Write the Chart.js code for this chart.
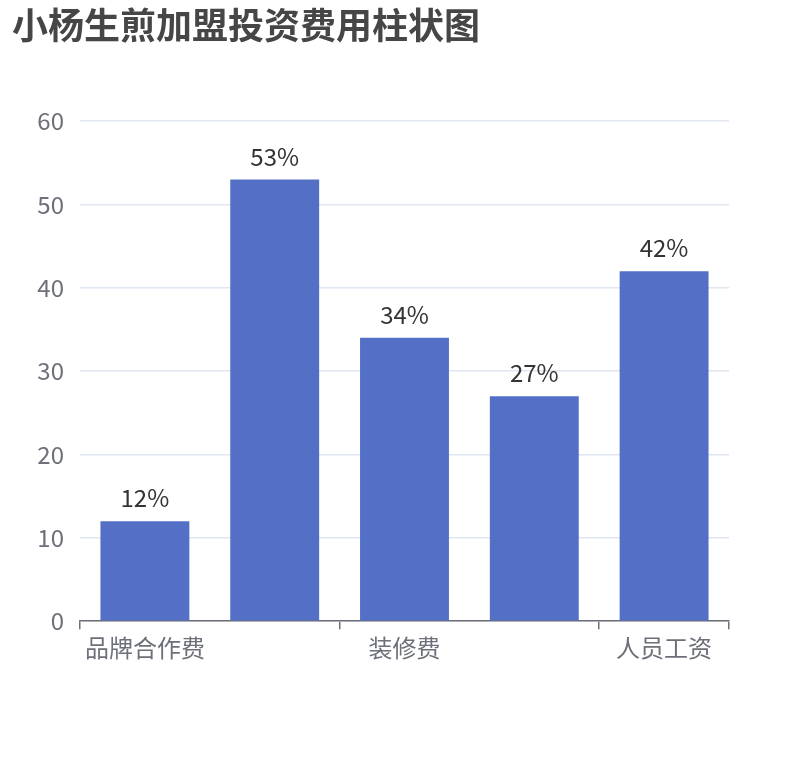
<!DOCTYPE html>
<html>
<head>
<meta charset="utf-8">
<script src="https://cdn.jsdelivr.net/npm/chart.js@4"></script>
<style>
html,body{margin:0;padding:0;background:#fff;}
#wrap{width:810px;height:760px;}
</style>
</head>
<body>
<div id="wrap"><canvas id="c" width="810" height="760"></canvas></div>
<script>
const titleText = '小杨生煎加盟投资费用柱状图';
const categories = ['品牌合作费', '加盟费', '装修费', '设备费', '人员工资'];
const values = [12, 53, 34, 27, 42];
const yTicks = [0, 10, 20, 30, 40, 50, 60];

const FONT = '"Noto Sans CJK SC", "Noto Sans", sans-serif';

const valueLabels = {
  id: 'valueLabels',
  afterDatasetsDraw(chart) {
    const ctx = chart.ctx;
    const meta = chart.getDatasetMeta(0);
    ctx.save();
    ctx.font = '24px ' + FONT;
    ctx.fillStyle = '#333333';
    ctx.textAlign = 'center';
    ctx.textBaseline = 'bottom';
    meta.data.forEach((bar, i) => {
      ctx.fillText(values[i] + '%', bar.x, bar.y - 11);
    });
    ctx.restore();
  }
};

new Chart(document.getElementById('c'), {
  type: 'bar',
  data: {
    labels: categories,
    datasets: [{
      data: values,
      backgroundColor: '#5470C6',
      barPercentage: 0.685,
      categoryPercentage: 1.0
    }]
  },
  options: {
    responsive: false,
    animation: false,
    devicePixelRatio: 1,
    layout: { padding: { left: 12, right: 81, top: 4, bottom: 94 } },
    plugins: {
      legend: { display: false },
      tooltip: { enabled: false },
      title: {
        display: true,
        text: titleText,
        align: 'start',
        color: '#464646',
        font: { family: FONT, size: 36, weight: 'bold' },
        padding: { top: 0, bottom: 74 }
      }
    },
    scales: {
      x: {
        type: 'category',
        offset: true,
        border: { display: true, color: '#6E7079', width: 1.5 },
        grid: {
          display: true,
          offset: true,
          drawOnChartArea: false,
          drawTicks: true,
          tickLength: 8,
          lineWidth: 1.5,
          color: (c) => (c.index === undefined || c.index % 2 === 0) ? '#6E7079' : 'rgba(0,0,0,0)'
        },
        ticks: {
          autoSkip: false,
          maxRotation: 0,
          color: '#6E7079',
          padding: 4,
          font: { family: FONT, size: 24 },
          callback: function(v, i) { return i % 2 === 0 ? categories[i] : ''; }
        }
      },
      y: {
        min: 0,
        max: 60,
        border: { display: false },
        grid: { color: '#E0E6F1', lineWidth: 1.5, drawTicks: false },
        afterBuildTicks: (s) => { s.ticks = yTicks.map(v => ({ value: v })); },
        afterFit: (s) => { s.width = 68; },
        ticks: {
          color: '#6E7079',
          padding: 16,
          font: { family: FONT, size: 24 }
        }
      }
    }
  },
  plugins: [valueLabels]
});
</script>
</body>
</html>
